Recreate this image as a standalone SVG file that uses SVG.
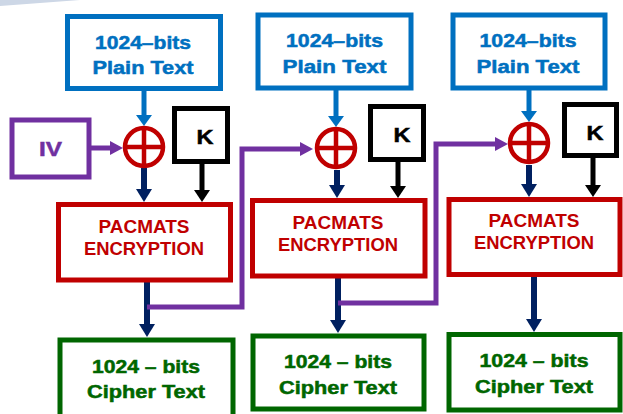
<svg xmlns="http://www.w3.org/2000/svg" width="623" height="414" viewBox="0 0 623 414">
  <defs>
    <marker id="ah-blue" markerUnits="userSpaceOnUse" markerWidth="12" markerHeight="16" refX="0" refY="8" orient="auto">
      <path d="M0,0 L11,8 L0,16 Z" fill="#0070C0"/>
    </marker>
    <marker id="ah-navy" markerUnits="userSpaceOnUse" markerWidth="14" markerHeight="16" refX="0" refY="8" orient="auto">
      <path d="M0,0 L13,8 L0,16 Z" fill="#002060"/>
    </marker>
    <marker id="ah-black" markerUnits="userSpaceOnUse" markerWidth="13" markerHeight="16" refX="0" refY="8" orient="auto">
      <path d="M0,0 L12,8 L0,16 Z" fill="#000000"/>
    </marker>
    <marker id="ah-purple" markerUnits="userSpaceOnUse" markerWidth="14" markerHeight="14" refX="0" refY="7" orient="auto">
      <path d="M0,0 L13,7 L0,14 Z" fill="#7030A0"/>
    </marker>
  </defs>
  <style>
    text { font-family: "Liberation Sans", Arial, sans-serif; font-weight: bold; text-anchor: middle; stroke-width: 0.5px; }
    .plain rect { fill: #ffffff; stroke: #0070C0; stroke-width: 5; }
    .plain text { fill: #0070C0; stroke: #0070C0; font-size: 18px; }
    .enc rect { fill: #ffffff; stroke: #C00000; stroke-width: 5; }
    .enc text { fill: #C00000; font-size: 18px; }
    .cipher rect { fill: #ffffff; stroke: #006600; stroke-width: 5; }
    .cipher text { fill: #006600; stroke: #006600; font-size: 18px; }
    .key rect { fill: #ffffff; stroke: #000000; stroke-width: 5; }
    .key text { fill: #000000; stroke: #000000; font-size: 20px; }
    .iv rect { fill: #ffffff; stroke: #7030A0; stroke-width: 5; }
    .iv text { fill: #7030A0; stroke: #7030A0; font-size: 21px; }
    .xor circle { fill: #ffffff; stroke: #C00000; stroke-width: 4.5; }
    .xor path { stroke: #C00000; stroke-width: 4.5; fill: none; }
    .c-blue { stroke: #0070C0; stroke-width: 5; fill: none; marker-end: url(#ah-blue); }
    .c-navy { stroke: #002060; stroke-width: 6; fill: none; marker-end: url(#ah-navy); }
    .c-black { stroke: #000000; stroke-width: 5; fill: none; marker-end: url(#ah-black); }
    .c-purple { stroke: #7030A0; stroke-width: 5; fill: none; marker-end: url(#ah-purple); }
  </style>

  <!-- faint corner swoosh -->
  <path d="M0,0 H80 Q40,3 0,6 Z" fill="#cdd7e6"/>

  <!-- connectors -->
  <g id="connectors">
    <path class="c-blue" d="M144,91 V115"/>
    <path class="c-purple" d="M91,148 H110"/>
    <path class="c-black" d="M202,164 V190"/>
    <path class="c-navy" d="M144,168 V189"/>
    <path class="c-navy" d="M147,282 V324"/>
    <path class="c-purple" d="M147,307 H242 V149 H300"/>

    <path class="c-blue" d="M336,90 V116"/>
    <path class="c-black" d="M398,162 V186"/>
    <path class="c-navy" d="M337,170 V185"/>
    <path class="c-navy" d="M338,278 V320"/>
    <path class="c-purple" d="M338,303 H436 V144 H495"/>

    <path class="c-blue" d="M529,90 V111"/>
    <path class="c-black" d="M593,158 V185"/>
    <path class="c-navy" d="M529,165 V184"/>
    <path class="c-navy" d="M534,276 V319"/>
  </g>

  <!-- chain 1 -->
  <g id="plain1" class="plain">
    <rect x="67.5" y="16.5" width="153" height="72"/>
    <text x="143" y="49" textLength="96" lengthAdjust="spacingAndGlyphs">1024–bits</text>
    <text x="143" y="74" textLength="101" lengthAdjust="spacingAndGlyphs">Plain Text</text>
  </g>
  <g id="iv" class="iv">
    <rect x="12" y="120" width="77" height="57"/>
    <text x="50.5" y="156" textLength="23" lengthAdjust="spacingAndGlyphs">IV</text>
  </g>
  <g id="xor1" class="xor">
    <circle cx="144" cy="147" r="19"/>
    <path d="M125,147 H163 M144,128 V166"/>
  </g>
  <g id="key1" class="key">
    <rect x="174.5" y="108.5" width="53" height="53"/>
    <text x="205" y="144" textLength="17" lengthAdjust="spacingAndGlyphs">K</text>
  </g>
  <g id="enc1" class="enc">
    <rect x="58.5" y="204.5" width="172" height="75.5"/>
    <text x="144" y="233" textLength="91" lengthAdjust="spacingAndGlyphs">PACMATS</text>
    <text x="144" y="255" textLength="120" lengthAdjust="spacingAndGlyphs">ENCRYPTION</text>
  </g>
  <g id="cipher1" class="cipher">
    <rect x="60" y="340" width="173" height="82"/>
    <text x="146" y="373" textLength="108" lengthAdjust="spacingAndGlyphs">1024 – bits</text>
    <text x="146" y="398" textLength="118" lengthAdjust="spacingAndGlyphs">Cipher Text</text>
  </g>

  <!-- chain 2 -->
  <g id="plain2" class="plain">
    <rect x="258" y="15" width="153" height="73"/>
    <text x="334.5" y="47" textLength="97" lengthAdjust="spacingAndGlyphs">1024–bits</text>
    <text x="334.5" y="73" textLength="104" lengthAdjust="spacingAndGlyphs">Plain Text</text>
  </g>
  <g id="xor2" class="xor">
    <circle cx="336" cy="148" r="19"/>
    <path d="M317,148 H355 M336,129 V167"/>
  </g>
  <g id="key2" class="key">
    <rect x="370.5" y="106.5" width="53" height="53"/>
    <text x="402" y="142" textLength="17" lengthAdjust="spacingAndGlyphs">K</text>
  </g>
  <g id="enc2" class="enc">
    <rect x="252.5" y="200.5" width="172.5" height="75.5"/>
    <text x="338" y="229" textLength="91" lengthAdjust="spacingAndGlyphs">PACMATS</text>
    <text x="338" y="251" textLength="120" lengthAdjust="spacingAndGlyphs">ENCRYPTION</text>
  </g>
  <g id="cipher2" class="cipher">
    <rect x="253" y="336" width="171" height="73"/>
    <text x="338" y="368" textLength="108" lengthAdjust="spacingAndGlyphs">1024 – bits</text>
    <text x="338" y="394" textLength="118" lengthAdjust="spacingAndGlyphs">Cipher Text</text>
  </g>

  <!-- chain 3 -->
  <g id="plain3" class="plain">
    <rect x="453" y="15" width="152" height="73"/>
    <text x="528" y="47" textLength="97" lengthAdjust="spacingAndGlyphs">1024–bits</text>
    <text x="528" y="73" textLength="103" lengthAdjust="spacingAndGlyphs">Plain Text</text>
  </g>
  <g id="xor3" class="xor">
    <circle cx="529" cy="143" r="19"/>
    <path d="M510,143 H548 M529,124 V162"/>
  </g>
  <g id="key3" class="key">
    <rect x="564.5" y="104.5" width="52" height="51"/>
    <text x="595" y="140" textLength="17" lengthAdjust="spacingAndGlyphs">K</text>
  </g>
  <g id="enc3" class="enc">
    <rect x="449" y="199.5" width="171" height="75"/>
    <text x="534" y="227" textLength="91" lengthAdjust="spacingAndGlyphs">PACMATS</text>
    <text x="534" y="249" textLength="120" lengthAdjust="spacingAndGlyphs">ENCRYPTION</text>
  </g>
  <g id="cipher3" class="cipher">
    <rect x="449" y="334.5" width="171" height="75.5"/>
    <text x="534" y="367" textLength="109" lengthAdjust="spacingAndGlyphs">1024 – bits</text>
    <text x="534" y="393" textLength="118" lengthAdjust="spacingAndGlyphs">Cipher Text</text>
  </g>
</svg>
